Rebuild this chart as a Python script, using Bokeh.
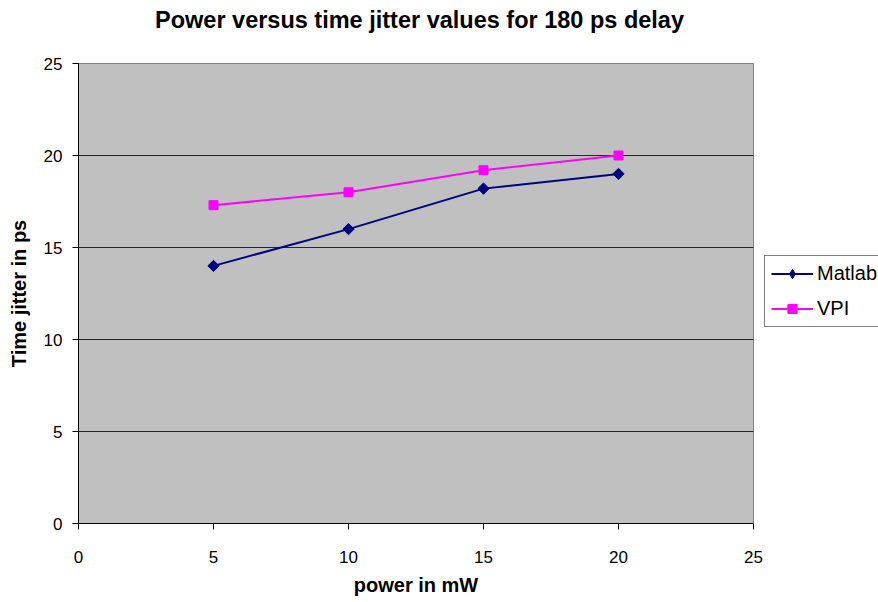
import math
from bokeh.plotting import figure
from bokeh.models import Range1d, Legend, LegendItem, FixedTicker, Label
from bokeh.layouts import column, row
from bokeh.embed import file_html
from bokeh.resources import INLINE

power = [5, 10, 15, 20]
matlab = [14.0, 16.0, 18.2, 19.0]
vpi = [17.3, 18.0, 19.2, 20.0]
ticks = [0, 5, 10, 15, 20, 25]
title_text = "Power versus time jitter values for 180 ps delay"

FONT = "Liberation Sans"
NAVY = "#000080"
MAGENTA = "#FF00FF"

# ---- title strip ----
t = figure(width=878, height=43, output_backend="svg", toolbar_location=None,
           x_range=Range1d(0, 878), y_range=Range1d(0, 43),
           x_axis_type=None, y_axis_type=None, min_border=0,
           min_border_left=0, min_border_right=0, min_border_top=0, min_border_bottom=0)
t.grid.visible = False
t.outline_line_color = None
t.background_fill_color = "white"
t.border_fill_color = "white"
t.add_layout(Label(x=419, y=24, text=title_text, text_align="center",
                   text_baseline="alphabetic", text_font=FONT,
                   text_font_size="23.5px", text_font_style="bold", text_color="black"))

# ---- main chart ----
p = figure(width=764, height=559, output_backend="svg", toolbar_location=None,
           x_range=Range1d(0, 25), y_range=Range1d(0, 25),
           min_border_left=78, min_border_right=11, min_border_top=20, min_border_bottom=79)

p.background_fill_color = "#C0C0C0"
p.border_fill_color = "white"
p.outline_line_color = "#808080"
p.outline_line_width = 1

for ax in (p.xaxis[0], p.yaxis[0]):
    ax.ticker = FixedTicker(ticks=ticks)
    ax.minor_tick_line_color = None
    ax.major_tick_in = 0
    ax.major_tick_out = 6
    ax.axis_line_color = "black"
    ax.major_tick_line_color = "black"
    ax.major_label_text_font = FONT
    ax.major_label_text_font_size = "17px"
    ax.major_label_text_color = "black"
    ax.axis_label_text_font = FONT
    ax.axis_label_text_font_size = "20px"
    ax.axis_label_text_font_style = "bold"
    ax.axis_label_text_color = "black"

p.xaxis.axis_label = "power in mW"
p.yaxis.axis_label = "Time jitter in ps"
p.xaxis.major_label_standoff = 21
p.yaxis.major_label_standoff = 10
p.xaxis.axis_label_standoff = 8
p.yaxis.axis_label_standoff = 11

p.xgrid.grid_line_color = None
p.ygrid.ticker = FixedTicker(ticks=[5, 10, 15, 20])
p.ygrid.grid_line_color = "#000000"
p.ygrid.grid_line_alpha = 0.8
p.ygrid.grid_line_width = 1

p.line(power, matlab, line_color=NAVY, line_width=2)
p.scatter(power, matlab, marker="square", angle=math.pi / 4, size=8,
          fill_color=NAVY, line_color=NAVY)
p.line(power, vpi, line_color=MAGENTA, line_width=2)
p.scatter(power, vpi, marker="square", size=9, fill_color=MAGENTA, line_color=MAGENTA)

# ---- legend strip ----
g = figure(width=114, height=559, output_backend="svg", toolbar_location=None,
           x_range=Range1d(0, 1), y_range=Range1d(0, 1),
           x_axis_type=None, y_axis_type=None, min_border=0)
g.grid.visible = False
g.outline_line_color = None
g.background_fill_color = "white"
g.border_fill_color = "white"
hx = [-5, -4]
hy = [0, 0]
gl1 = g.line(hx, hy, line_color=NAVY, line_width=2)
gm1 = g.scatter(hx, hy, marker="diamond", size=12, fill_color=NAVY, line_color=NAVY)
gl2 = g.line(hx, hy, line_color=MAGENTA, line_width=2)
gm2 = g.scatter(hx, hy, marker="square", size=9, fill_color=MAGENTA, line_color=MAGENTA)

legend = Legend(items=[LegendItem(label="Matlab", renderers=[gl1, gm1]),
                       LegendItem(label="VPI", renderers=[gl2, gm2])],
                location=(0, 196))
legend.border_line_color = "black"
legend.border_line_width = 1
legend.background_fill_color = "white"
legend.label_text_font = FONT
legend.label_text_font_size = "20px"
legend.label_text_color = "black"
legend.glyph_width = 42
legend.glyph_height = 23
legend.label_height = 23
legend.label_standoff = 4
legend.spacing = 12
legend.padding = 6
legend.margin = 0
g.add_layout(legend, "center")

layout = column(t, row(p, g, spacing=0), spacing=0)

open("out.html", "w").write(file_html(layout, INLINE))
